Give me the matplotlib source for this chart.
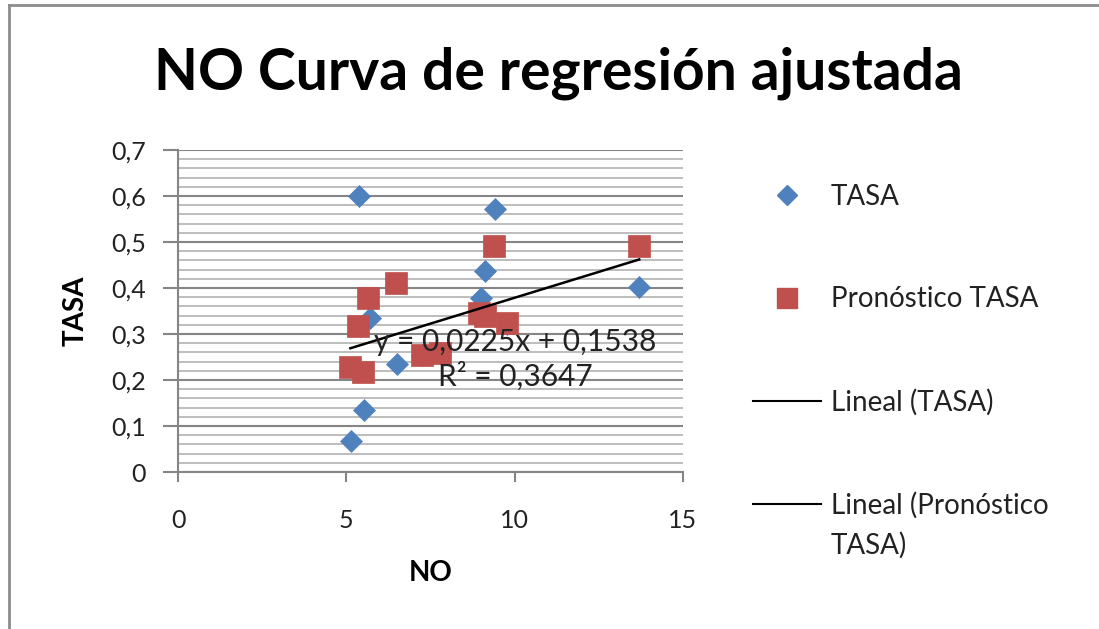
import matplotlib
matplotlib.use("Agg")
import matplotlib.pyplot as plt
import numpy as np
from matplotlib.lines import Line2D
from matplotlib.ticker import MultipleLocator, FuncFormatter

# ---- data ----
no_tasa = [5.15, 5.37, 5.52, 5.71, 6.51, 7.25, 7.78, 8.99, 9.12, 9.43, 9.76, 13.70]
tasa = [0.067, 0.600, 0.135, 0.334, 0.235, 0.254, 0.258, 0.378, 0.437, 0.571, 0.322, 0.403]

no_pron = [5.12, 5.35, 5.49, 5.64, 6.49, 7.25, 7.78, 8.94, 9.12, 9.39, 9.76, 13.70]
pron_tasa = [0.229, 0.317, 0.217, 0.378, 0.411, 0.254, 0.258, 0.345, 0.340, 0.491, 0.325, 0.491]

slope = 0.0225
intercept = 0.1538
r2 = 0.3647

title = "NO Curva de regresión ajustada"
xlabel = "NO"
ylabel = "TASA"
x_ticks = [0, 5, 10, 15]
y_ticks = [0, 0.1, 0.2, 0.3, 0.4, 0.5, 0.6, 0.7]
legend_labels = ["TASA", "Pronóstico TASA", "Lineal (TASA)", "Lineal (Pronóstico", "TASA)"]

BLUE = "#4F81BD"
RED = "#C0504D"
FONT = "Lato"

W, H = 1099, 629
fig = plt.figure(figsize=(W / 100, H / 100), dpi=100)
plt.rcParams["font.family"] = [FONT, "DejaVu Sans"]

# plot area in pixels
L, R, T, B = 178, 683, 150, 472
ax = fig.add_axes([L / W, 1 - B / H, (R - L) / W, (B - T) / H])

ax.set_xlim(0, 15)
ax.set_ylim(0, 0.7)
ax.set_xticks(x_ticks)
ax.set_yticks(y_ticks)
ax.yaxis.set_minor_locator(MultipleLocator(0.02))
ax.xaxis.set_major_formatter(FuncFormatter(lambda v, p: f"{v:g}"))
ax.yaxis.set_major_formatter(FuncFormatter(lambda v, p: f"{v:g}".replace(".", ",")))

ax.grid(True, which="major", axis="y", color="#858585", linewidth=1.5, zorder=0)
ax.grid(True, which="minor", axis="y", color="#ababab", linewidth=1.1, zorder=0)
ax.set_axisbelow(True)
for s in ["top", "right"]:
    ax.spines[s].set_visible(False)
for s in ["left", "bottom"]:
    ax.spines[s].set_color("#858585")
    ax.spines[s].set_linewidth(1.5)

ax.tick_params(axis="y", which="major", length=11, width=1.5, color="#858585",
               pad=12, labelsize=18, labelcolor="#222222")
ax.tick_params(axis="y", which="minor", length=0)
ax.tick_params(axis="x", which="major", length=7, width=1.5, color="#858585",
               pad=20, labelsize=18, labelcolor="#222222")

# series
ax.plot(no_tasa, tasa, linestyle="none", marker="D", markersize=11.5,
        color=BLUE, markeredgecolor=BLUE, markeredgewidth=0.5, zorder=3, clip_on=False)
ax.plot(no_pron, pron_tasa, linestyle="none", marker="s", markersize=16,
        color=RED, markeredgecolor=RED, markeredgewidth=0.5, zorder=4, clip_on=False)

# trendline
xs = np.array([min(no_tasa + no_pron), max(no_tasa + no_pron)])
ax.plot(xs, slope * xs + intercept, color="black", linewidth=1.8, zorder=5)

eq = f"y = {slope:.4f}x + {intercept:.4f}".replace(".", ",") + "\n" + \
     f"R² = {r2:.4f}".replace(".", ",")
ax.text(10.03, 0.245, eq, ha="center", va="center", fontsize=21.5,
        color="#222222", linespacing=1.25, zorder=6)

ax.set_xlabel(xlabel, fontsize=20, fontweight="bold", labelpad=20)
ax.set_ylabel(ylabel, fontsize=20, fontweight="bold", labelpad=16)

fig.text(558 / W, 1 - 73 / H, title, ha="center", va="center",
         fontsize=41, fontweight="bold", color="black")

handles = [
    Line2D([], [], linestyle="none", marker="D", markersize=10, color=BLUE),
    Line2D([], [], linestyle="none", marker="s", markersize=15, color=RED),
    Line2D([], [], color="black", linewidth=1.5),
    Line2D([], [], color="black", linewidth=1.5),
]
leg = fig.legend(handles, legend_labels[:4], loc="upper left",
                 bbox_to_anchor=(753 / W, 1 - 184 / H), frameon=False,
                 fontsize=20, handlelength=2.45, handletextpad=0.36,
                 labelspacing=2.75, borderaxespad=0, borderpad=0)
for t in leg.get_texts():
    t.set_color("#222222")

# second line of the last legend label, placed under its first line
fig.canvas.draw()
last = leg.get_texts()[3].get_window_extent()
fig.text(last.x0 / W, (last.y0 - 40) / H, legend_labels[4], ha="left", va="bottom",
         fontsize=20, color="#222222")

# outer chart border (top and left visible)
fig.add_artist(Line2D([9 / W, 1], [1 - 5 / H, 1 - 5 / H], color="#8c8c8c", linewidth=2))
fig.add_artist(Line2D([9 / W, 9 / W], [0, 1 - 5 / H], color="#8c8c8c", linewidth=2))

fig.savefig("out.png", dpi=100)
